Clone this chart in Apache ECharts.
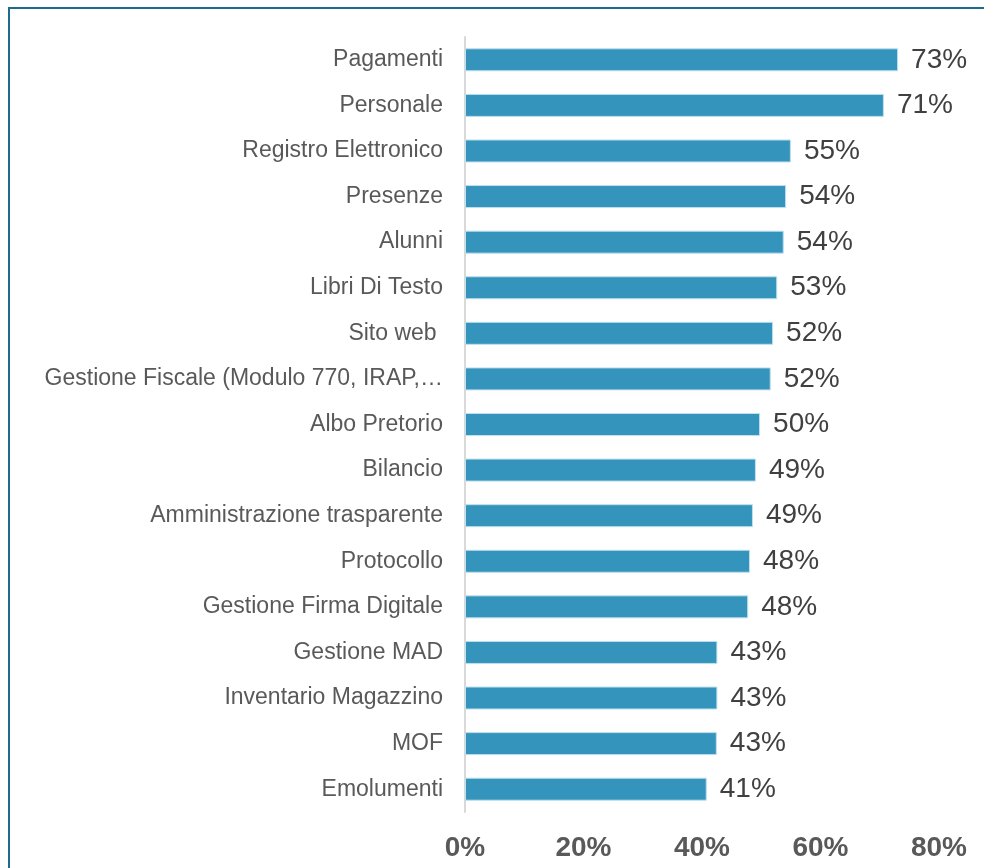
<!DOCTYPE html>
<html>
<head>
<meta charset="utf-8">
<script src="https://cdn.jsdelivr.net/npm/echarts@6/dist/echarts.min.js"></script>
<style>
  html, body { margin: 0; padding: 0; background: #fff; overflow: hidden; }
  .frame {
    position: absolute; left: 8px; top: 7px;
    width: 1000px; height: 900px;
    border: 2px solid #1f6b8e;
  }
  #chart { position: absolute; left: 0; top: 0; width: 984px; height: 868px; }
</style>
</head>
<body>
<div class="frame"></div>
<div id="chart"></div>
<script>
// categories top to bottom
var categories = [
  "Pagamenti", "Personale", "Registro Elettronico", "Presenze", "Alunni",
  "Libri Di Testo", "Sito web ", "Gestione Fiscale (Modulo 770, IRAP,…",
  "Albo Pretorio", "Bilancio", "Amministrazione trasparente", "Protocollo",
  "Gestione Firma Digitale", "Gestione MAD", "Inventario Magazzino", "MOF",
  "Emolumenti"
];
// percent values
var values = [73.1, 70.7, 55.0, 54.2, 53.8, 52.7, 52.0, 51.6, 49.8, 49.1,
  48.6, 48.1, 47.8, 42.6, 42.6, 42.5, 40.8];
var ticks = [0, 20, 40, 60, 80];

var chart = echarts.init(document.getElementById("chart"));
var option = {
  animation: false,
  grid: { left: 465, right: 45, top: 37, bottom: 56 },
  xAxis: {
    type: "value",
    min: ticks[0],
    max: ticks[ticks.length - 1],
    interval: ticks[1] - ticks[0],
    axisLine: { show: false },
    axisTick: { show: false },
    splitLine: { show: false },
    axisLabel: {
      formatter: "{value}%",
      fontFamily: "Liberation Sans, Arial, sans-serif",
      fontSize: 28,
      fontWeight: "bold",
      color: "#595959",
      margin: 22
    }
  },
  yAxis: {
    type: "category",
    inverse: true,
    data: categories,
    axisLine: { show: true, lineStyle: { color: "#d9d9d9", width: 2 } },
    axisTick: { show: false },
    axisLabel: {
      fontFamily: "Liberation Sans, Arial, sans-serif",
      fontSize: 23,
      color: "#595959",
      margin: 22
    }
  },
  series: [{
    type: "bar",
    data: values,
    barWidth: 23,
    itemStyle: { color: "#3594bb", borderColor: "#bfe0ee", borderWidth: 1 },
    label: {
      show: true,
      position: "right",
      distance: 13,
      formatter: function (p) { return Math.round(p.value) + "%"; },
      fontFamily: "Liberation Sans, Arial, sans-serif",
      fontSize: 28,
      color: "#404040"
    }
  }]
};
chart.setOption(option);
window.addEventListener("resize", function () { chart.resize(); });
</script>
</body>
</html>
